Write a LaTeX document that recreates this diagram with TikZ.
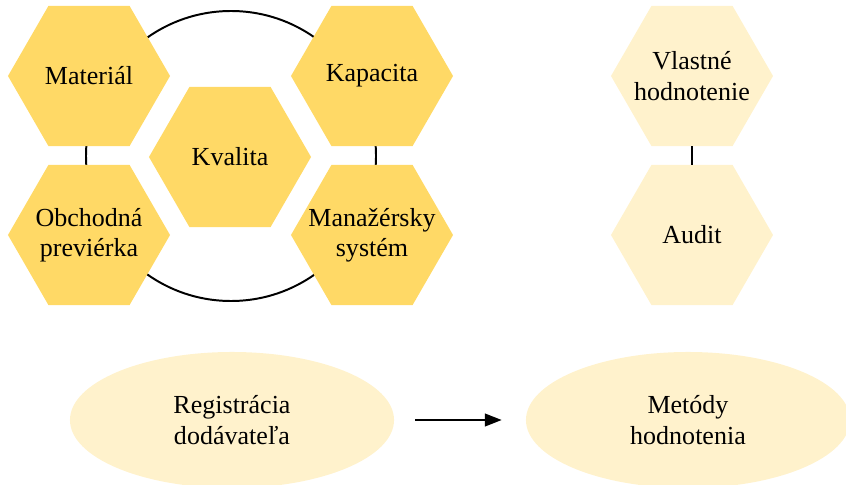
\documentclass[tikz,border=0pt]{standalone}
\usepackage{fontspec}
\setmainfont{Liberation Serif}
\usetikzlibrary{shapes.geometric,arrows.meta}
\definecolor{hexdark}{HTML}{FFD966}
\definecolor{hexlight}{HTML}{FFF2CC}
\begin{document}
\begin{tikzpicture}[x=0.025cm,y=-0.025cm]
    \tikzset{font={\fontsize{18.5pt}{21.5pt}\selectfont}}
    \tikzset{hexa/.style={regular polygon,regular polygon sides=6,minimum size=4.05cm,inner sep=0pt,fill=hexdark},
      hexpale/.style={hexa,fill=hexlight},
      txt/.style={align=center},
      oval/.style={ellipse,minimum width=8.1cm,minimum height=3.4cm,inner sep=0pt,fill=hexlight,align=center}}
    \useasboundingbox (0,0) rectangle (846,485);
    \coordinate (ring) at (231,156);
    \draw[line width=1.4pt] (ring) circle [radius=145];
    \node[hexa,label={[txt]center:Materiál}] (mat) at (89,76) {};
    \node[hexa,label={[txt]center:Kapacita}] (kap) at (372,76) {};
    \node[hexa,label={[txt]center:Kvalita}] (kval) at (230,157) {};
    \node[hexa,label={[txt]center:{Obchodná\\previérka}}] (obch) at (89,235) {};
    \node[hexa,label={[txt]center:{Manažérsky\\systém}}] (man) at (372,235) {};
    \node[hexpale,label={[txt]center:{Vlastné\\hodnotenie}}] (vlast) at (692,76) {};
    \node[hexpale,label={[txt]center:Audit}] (aud) at (692,235) {};
    \draw[line width=1.4pt] (vlast) -- (aud);
    \node[oval] (reg) at (232,420) {Registrácia\\dodávateľa};
    \node[oval] (met) at (688,420) {Metódy\\hodnotenia};
    \draw[line width=1.1pt,-{Triangle[length=0.42cm,width=0.32cm]},shorten <=0.52cm,shorten >=0.6cm] (reg) -- (met);
\end{tikzpicture}
\end{document}
